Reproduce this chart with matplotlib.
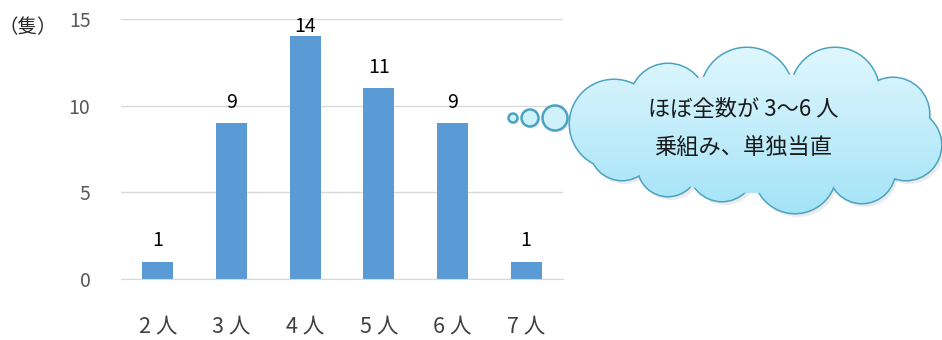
import matplotlib
matplotlib.use("Agg")
import matplotlib.pyplot as plt
from matplotlib.patches import Circle, Ellipse
import numpy as np

plt.rcParams['font.family'] = ['Noto Sans CJK JP', 'DejaVu Sans']

categories = ["2 人", "3 人", "4 人", "5 人", "6 人", "7 人"]
values = [1, 9, 14, 11, 9, 1]
yticks = [0, 5, 10, 15]
unit_label = "（隻）"
callout_lines = ["ほぼ全数が 3～6 人", "乗組み、単独当直"]

W, H = 942, 340
fig = plt.figure(figsize=(W / 100, H / 100), dpi=100)
ax = fig.add_axes([121 / W, 1 - 279 / H, (563 - 121) / W, (279 - 19) / H])

x = np.arange(len(categories))
ax.bar(x, values, width=0.42, color="#5B9BD5", zorder=2)
ax.set_xlim(-0.5, len(categories) - 0.5)
ax.set_ylim(0, 15)
ax.set_yticks(yticks)
ax.set_xticks(x)
ax.set_xticklabels(categories, fontsize=15.5, color="#404040")
ax.tick_params(axis='x', length=0, pad=26)
ax.tick_params(axis='y', length=0, pad=22, labelsize=14, labelcolor="#595959")
for s in ["top", "right", "left"]:
    ax.spines[s].set_visible(False)
ax.spines["bottom"].set_color("#D9D9D9")
ax.grid(axis='y', color="#D9D9D9", linewidth=1, zorder=0)
ax.set_axisbelow(True)

for xi, v in zip(x, values):
    ypos = min(v + 0.6, 13.95)
    ax.text(xi, ypos, str(v), ha='center', va='bottom', fontsize=14, color="black")

fig.text(28 / W, 1 - 28 / H, unit_label, ha='center', va='center', fontsize=14, color="#262626")

# overlay for the cloud callout in pixel coordinates
ov = fig.add_axes([0, 0, 1, 1])
ov.set_xlim(0, W)
ov.set_ylim(H, 0)
ov.axis('off')

edge = "#4AA3C2"
lobes = [(614, 124, 44), (668, 102, 38), (747, 94, 46), (835, 92, 44), (893, 114, 36),
         (906, 145, 35), (862, 170, 33), (795, 172, 41), (722, 168, 33), (668, 166, 30),
         (622, 148, 32)]
base = (757, 133, 300, 120)

# vertical gradient image
grad = np.linspace(0, 1, 256).reshape(-1, 1)
top = np.array([0.88, 0.97, 0.995])
bot = np.array([0.64, 0.89, 0.97])
img = top[None, None, :] * (1 - grad[:, :, None]) + bot[None, None, :] * grad[:, :, None]
extent = (560, 945, 215, 45)

# shadow
for a, b, r in lobes:
    ov.add_patch(Circle((a + 3, b + 4), r, color="#BDBDBD", alpha=0.3, lw=0, zorder=1))
for a, b, r in lobes:
    ov.add_patch(Circle((a, b), r, facecolor="none", edgecolor=edge, lw=2.2, zorder=2))
clips = [Ellipse(base[:2], base[2], base[3], transform=ov.transData)]
clips += [Circle((a, b), r, transform=ov.transData) for a, b, r in lobes]
for c in clips:
    im = ov.imshow(img, extent=extent, aspect='auto', zorder=3, interpolation='bilinear')
    im.set_clip_path(c)

for (a, b, r) in [(513, 118, 4.5), (530, 118, 8.5), (555, 118, 12.5)]:
    ov.add_patch(Circle((a + 2, b + 2), r, color="#BDBDBD", alpha=0.3, lw=0, zorder=1))
    c = Circle((a, b), r, facecolor="#CFF1FB", edgecolor=edge, lw=1.8, zorder=3)
    ov.add_patch(c)

ov.set_xlim(0, W)
ov.set_ylim(H, 0)

ov.text(743, 109, callout_lines[0], ha='center', va='center', fontsize=16, color="#1a1a1a", zorder=5)
ov.text(743, 148, callout_lines[1], ha='center', va='center', fontsize=16, color="#1a1a1a", zorder=5)

fig.savefig("out.png", dpi=100)
